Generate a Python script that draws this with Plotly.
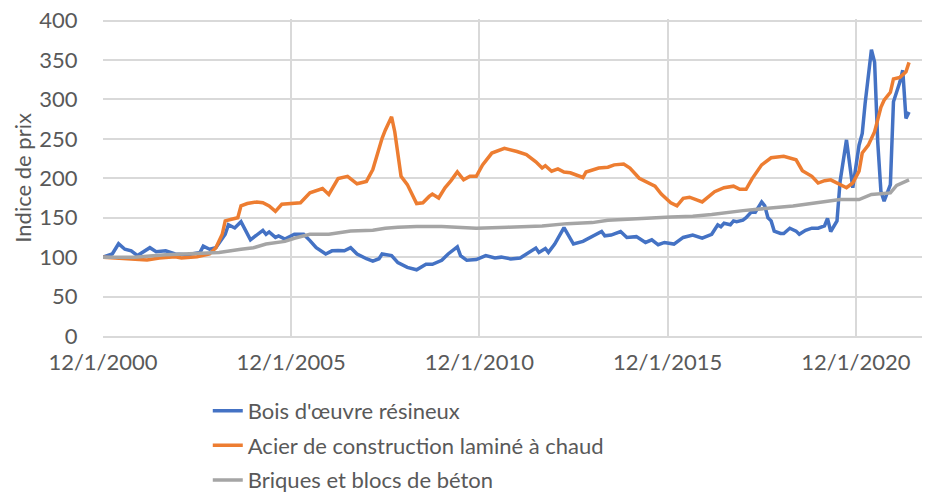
import plotly.graph_objects as go

# ---- data ----
bois_dates = ["2000-12","2001-03","2001-05","2001-07","2001-09","2001-11","2002-03","2002-05","2002-08","2002-11",
              "2003-03","2003-07","2003-08","2003-10","2003-12","2004-03","2004-04","2004-06","2004-08","2004-11",
              "2005-03","2005-04","2005-05","2005-07","2005-08","2005-10","2006-01","2006-04","2006-06","2006-08",
              "2006-11","2007-01","2007-03","2007-05","2007-07","2007-09","2007-12","2008-02","2008-04","2008-05",
              "2008-08","2008-10","2009-01","2009-04","2009-07","2009-09","2009-12","2010-02","2010-05","2010-06",
              "2010-08","2010-11","2011-02","2011-05","2011-07","2011-10","2012-01","2012-04","2012-06","2012-07",
              "2012-09","2012-10","2012-12","2013-03","2013-06","2013-09","2013-11","2014-03","2014-04","2014-06",
              "2014-09","2014-11","2015-02","2015-05","2015-07","2015-09","2015-11","2016-02","2016-05","2016-08",
              "2016-11","2017-02","2017-04","2017-05","2017-06","2017-08","2017-09","2017-10","2017-12","2018-01",
              "2018-03","2018-04","2018-06","2018-07","2018-08","2018-09","2018-10","2018-12","2019-01","2019-03",
              "2019-05","2019-06","2019-08","2019-10","2019-12","2020-02","2020-03","2020-04","2020-06","2020-07",
              "2020-09","2020-10","2020-11","2021-01","2021-02","2021-03","2021-05","2021-06","2021-07","2021-08",
              "2021-09","2021-11","2021-12","2022-02","2022-03","2022-04","2022-05"]
bois_values = [100,104,117,110,108,102,112,107,108,104,
               103,106,114,110,112,129,141,137,145,122,
               134,129,132,125,127,123,129,129,121,112,
               104,108,108.5,108,112,104,98,95,98,104,
               102,93,87,84,91,91,96,104,113,102,
               96,97,102,99,100,97.7,99,106,111.5,106,
               111,106,116.6,137.5,116.6,120,124,132.5,127,128,
               132.5,125,126,118.6,122,115.7,118.6,116.6,125,128,
               124,129,141,138.6,143,141,146,145,147,150,
               158.5,157,170,165,150,146,133,130,130,136.7,
               133,129,134,136.7,136.7,139.6,149,132.5,146,196,
               248.7,221,188,242,257,295,363,347,246.5,183.6,
               171,192,297,322,337,276,284]

acier_dates = ["2000-12","2001-05","2001-09","2002-02","2002-06","2002-11","2003-01","2003-06","2003-10","2003-12",
               "2004-02","2004-03","2004-05","2004-07","2004-08","2004-10","2005-01","2005-03","2005-05","2005-07",
               "2005-09","2006-01","2006-03","2006-06","2006-10","2006-12","2007-03","2007-06","2007-09","2007-12",
               "2008-02","2008-05","2008-06","2008-08","2008-09","2008-11","2009-01","2009-04","2009-06","2009-08",
               "2009-09","2009-11","2010-01","2010-03","2010-05","2010-07","2010-09","2010-11","2011-01","2011-04",
               "2011-08","2011-12","2012-03","2012-06","2012-08","2012-09","2012-11","2013-01","2013-03","2013-05",
               "2013-06","2013-09","2013-10","2014-02","2014-05","2014-07","2014-10","2014-12","2015-03","2015-06",
               "2015-08","2015-10","2016-01","2016-03","2016-05","2016-07","2016-11","2017-03","2017-06","2017-09",
               "2017-11","2018-01","2018-03","2018-06","2018-09","2019-01","2019-05","2019-07","2019-10","2019-12",
               "2020-02","2020-04","2020-06","2020-09","2020-11","2021-01","2021-02","2021-04","2021-06","2021-08",
               "2021-09","2021-11","2021-12","2022-02","2022-04","2022-05"]
acier_values = [100,99,97.7,96.5,99,100.6,99,100.6,104,112,
                129,146,148,150,165,168,170,169,165,158,
                167,169,169,181.5,187,179.5,199.6,202.5,193,196,
                211,250.7,261,278,259,202.5,192,168,169,177,
                180,175,188,197,208,198,202.5,202.5,217,232,
                238,234,230,221,213,216,209,212,208,207,
                205.5,201,208,213,214,217,218,213,200,194,
                190,180,169,165,174.5,176,170,183,188,190,
                186,186,199.6,217,226,228,223.5,209.6,202.5,194,
                197,198,194,188,194,209,232,242,259,290,
                299,309,326,328,335,347]

briques_dates = ["2000-12","2001-10","2002-08","2003-07","2004-01","2004-08","2004-12","2005-04","2005-08","2005-10",
                 "2006-01","2006-06","2006-12","2007-03","2007-07","2008-02","2008-06","2008-10","2009-04","2009-12",
                 "2010-05","2010-11","2011-09","2012-08","2013-04","2013-12","2014-05","2015-02","2016-01","2016-08",
                 "2017-02","2017-12","2018-08","2019-04","2020-03","2020-07","2021-01","2021-05","2021-11","2022-01",
                 "2022-05"]
briques_values = [100,100,103,105,106,110,112,116.6,118.6,120,
                  124,129,129,131,133,134,136.7,138,139,139,
                  137.5,136.7,138,139.6,142.5,143.8,146.7,149,151,152,
                  154,159,162,165,171,173,173,179.5,181.5,191,
                  198]

series_names = ["Bois d'œuvre résineux", "Acier de construction laminé à chaud", "Briques et blocs de béton"]
series_colors = ["#4472C4", "#ED7D31", "#A5A5A5"]
y_title = "Indice de prix"

tick_dates = ["2000-12-01", "2005-12-01", "2010-12-01", "2015-12-01", "2020-12-01"]
tick_labels = ["12/1/2000", "12/1/2005", "12/1/2010", "12/1/2015", "12/1/2020"]
y_ticks = [0, 50, 100, 150, 200, 250, 300, 350, 400]

FONT = "Lato"
TXT = "#595959"
GRID = "#D9D9D9"
FS = 22

fig = go.Figure()
for i, (d, v) in enumerate([(bois_dates, bois_values), (acier_dates, acier_values), (briques_dates, briques_values)]):
    fig.add_trace(go.Scatter(
        x=[s + "-01" for s in d], y=v, mode="lines",
        name=series_names[i], legendgroup=f"g{i}",
        line=dict(color=series_colors[i], width=3.5),
    ))

# The page body has an 8px default margin, so the figure is sized to fill the rest of the window.
fig.update_layout(
    width=922, height=487,
    margin=dict(l=95, r=2, t=11, b=159, autoexpand=False),
    paper_bgcolor="white", plot_bgcolor="white",
    font=dict(family=FONT, color=TXT, size=FS),
    showlegend=True,
    legend=dict(
        orientation="v", x=0.127, xanchor="left", y=-0.17, yanchor="top",
        font=dict(family=FONT, size=FS, color=TXT),
        tracegroupgap=3, bgcolor="rgba(0,0,0,0)",
    ),
    annotations=[dict(
        text=y_title, xref="paper", yref="paper", x=-0.098, y=0.5,
        xanchor="center", yanchor="middle", textangle=-90, showarrow=False,
        font=dict(family=FONT, size=FS, color=TXT),
    )],
)
fig.update_xaxes(
    type="date", range=["2000-12-01", "2022-11-01"], automargin=False,
    tickvals=tick_dates, ticktext=tick_labels,
    showgrid=True, gridcolor=GRID, gridwidth=1.5,
    showline=True, linecolor=GRID, linewidth=1.5,
    ticks="outside", ticklen=6, tickcolor="rgba(0,0,0,0)",
    ticklabeloverflow="allow",
    tickfont=dict(family=FONT, size=FS, color=TXT),
    zeroline=False,
)
fig.update_yaxes(
    range=[0, 402], tickvals=y_ticks, automargin=False,
    showgrid=True, gridcolor=GRID, gridwidth=1.5,
    showline=False, zeroline=False,
    ticks="outside", ticklen=20, tickcolor="rgba(0,0,0,0)",
    ticklabeloverflow="allow",
    tickfont=dict(family=FONT, size=FS, color=TXT),
)

fig.write_html("out.html")
